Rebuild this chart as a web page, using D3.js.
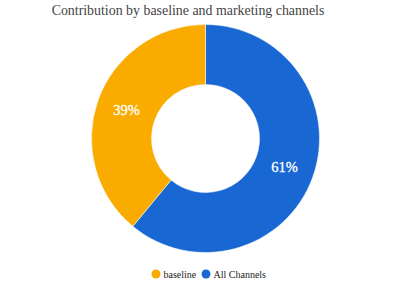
<!DOCTYPE html>
<html><head><meta charset="utf-8">
<script src="https://cdn.jsdelivr.net/npm/d3@7"></script>
<style>body{margin:0;background:#fff}svg{display:block}</style>
</head><body>
<script>
const title = "Contribution by baseline and marketing channels";
const categories = ["All Channels", "baseline"];
const values = [61, 39];
const colors = ["#1967D2", "#F9AB00"];
const legendOrder = ["baseline", "All Channels"];

const W = 411, H = 283;
const cx = 205.5, cy = 138.5, rOuter = 114, rInner = 54;

const svg = d3.select("body").append("svg").attr("width", W).attr("height", H);

svg.append("text").attr("x", 188).attr("y", 15).attr("text-anchor", "middle")
  .attr("font-family", "Liberation Serif, serif").attr("font-size", 13.9).attr("fill", "#444")
  .text(title);

const color = d3.scaleOrdinal().domain(categories).range(colors);
const pie = d3.pie().sort(null).value(d => d.v);
const data = categories.map((c, i) => ({c, v: values[i]}));
const arcs = pie(data);
const arc = d3.arc().innerRadius(rInner).outerRadius(rOuter);
const total = d3.sum(values);

const g = svg.append("g").attr("transform", `translate(${cx},${cy})`);
g.selectAll("path").data(arcs).join("path")
  .attr("d", arc).attr("fill", d => color(d.data.c)).attr("stroke", "#fff").attr("stroke-width", 0.5);
g.selectAll("text").data(arcs).join("text")
  .attr("transform", d => `translate(${arc.centroid(d)})`)
  .attr("text-anchor", "middle").attr("dy", "0.35em")
  .attr("font-family", "Liberation Serif, serif").attr("font-size", 14.5).attr("fill", "#fff")
  .attr("stroke", "#fff").attr("stroke-width", 0.3)
  .text(d => Math.round(d.data.v / total * 100) + "%");

const leg = svg.append("g").attr("font-family", "Liberation Serif, serif").attr("font-size", 10).attr("fill", "#222");
const legX = [156, 206];
legendOrder.forEach((c, i) => {
  leg.append("circle").attr("cx", legX[i]).attr("cy", 274).attr("r", 4.5).attr("fill", color(c));
  leg.append("text").attr("x", legX[i] + 7.5).attr("y", 277.5).text(c);
});
</script>
</body></html>
